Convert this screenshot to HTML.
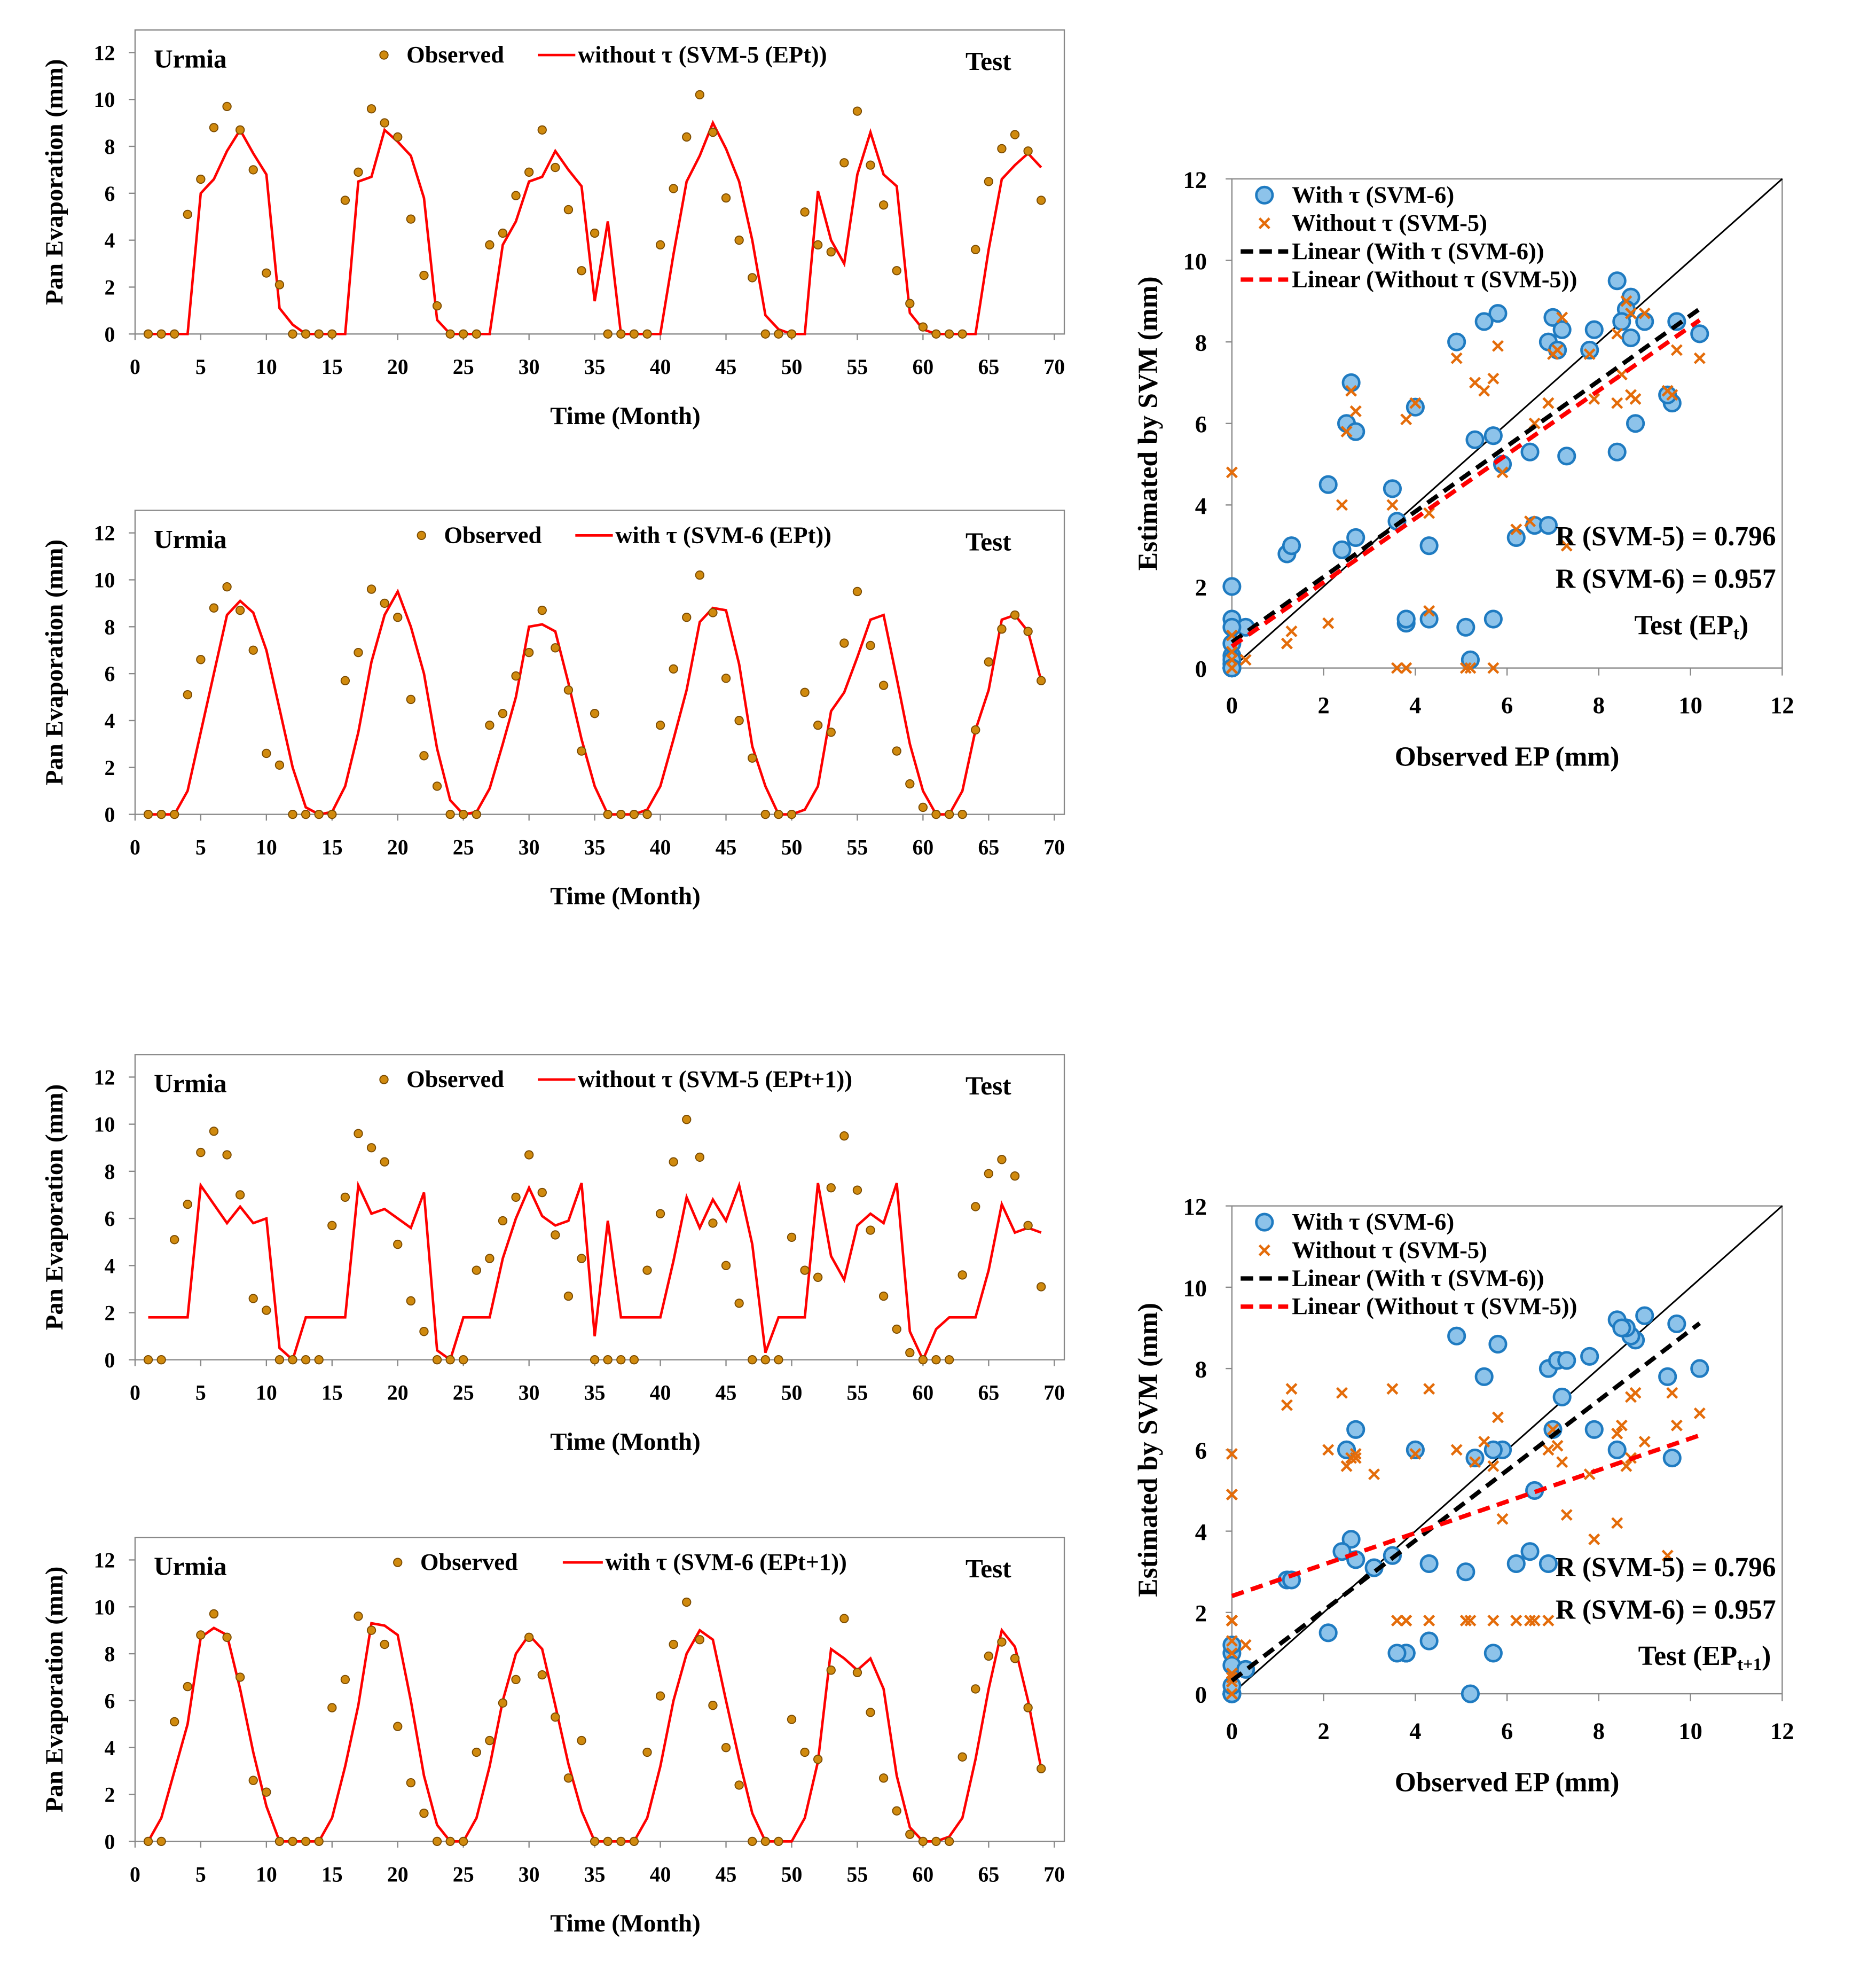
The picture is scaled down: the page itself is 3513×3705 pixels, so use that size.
<!DOCTYPE html>
<html><head><meta charset="utf-8">
<style>
html,body{margin:0;padding:0;background:#fff;}
svg{display:block;}
text{font-family:"Liberation Serif",serif;font-weight:bold;fill:#000;}
</style></head>
<body>
<svg id="fig" xmlns="http://www.w3.org/2000/svg" width="3513" height="3705" viewBox="0 0 1500 1582" preserveAspectRatio="none"></svg>
<script>
const months = Array.from({length:69},(_,i)=>i+1);
const obsT = [0,0,0,5.1,6.6,8.8,9.7,8.7,7.0,2.6,2.1,0,0,0,0,5.7,6.9,9.6,9.0,8.4,4.9,2.5,1.2,0,0,0,3.8,4.3,5.9,6.9,8.7,7.1,5.3,2.7,4.3,0,0,0,0,3.8,6.2,8.4,10.2,8.6,5.8,4.0,2.4,0,0,0,5.2,3.8,3.5,7.3,9.5,7.2,5.5,2.7,1.3,0.3,0,0,0,3.6,6.5,7.9,8.5,7.8,5.7];
const obsT1 = [0,0,5.1,6.6,8.8,9.7,8.7,7.0,2.6,2.1,0,0,0,0,5.7,6.9,9.6,9.0,8.4,4.9,2.5,1.2,0,0,0,3.8,4.3,5.9,6.9,8.7,7.1,5.3,2.7,4.3,0,0,0,0,3.8,6.2,8.4,10.2,8.6,5.8,4.0,2.4,0,0,0,5.2,3.8,3.5,7.3,9.5,7.2,5.5,2.7,1.3,0.3,0,0,0,3.6,6.5,7.9,8.5,7.8,5.7,3.1];
const svm5T = [0,0,0,0,6.0,6.6,7.8,8.7,7.7,6.8,1.1,0.4,0,0,0,0,6.5,6.7,8.7,8.2,7.6,5.8,0.6,0,0,0,0,3.8,4.8,6.5,6.7,7.8,7.0,6.3,1.4,4.8,0,0,0,0,3.4,6.5,7.6,9.0,7.9,6.5,4.0,0.8,0.2,0,0,6.1,4.0,3.0,6.8,8.6,6.8,6.3,0.9,0.2,0,0,0,0,3.6,6.6,7.2,7.7,7.1];
const svm6T = [0,0,0,1.0,3.5,6.0,8.5,9.1,8.6,7.0,4.5,2.0,0.3,0,0.1,1.2,3.5,6.5,8.5,9.5,8.0,6.0,2.8,0.6,0,0.1,1.1,3.0,5.0,8.0,8.1,7.8,5.6,3.2,1.2,0,0,0,0.2,1.2,3.2,5.3,8.2,8.8,8.7,6.4,2.9,1.2,0,0,0.2,1.2,4.4,5.2,6.7,8.3,8.5,5.8,3.0,1.0,0,0,1.0,3.6,5.3,8.3,8.5,7.8,5.7];
const svm5T1 = [1.8,1.8,1.8,1.8,7.4,6.6,5.8,6.5,5.8,6.0,0.5,0,1.8,1.8,1.8,1.8,7.4,6.2,6.4,6.0,5.6,7.1,0.4,0,1.8,1.8,1.8,4.3,6.0,7.3,6.1,5.7,5.9,7.5,1.0,5.9,1.8,1.8,1.8,1.8,4.2,6.9,5.6,6.8,5.9,7.4,4.9,0.3,1.8,1.8,1.8,7.5,4.4,3.4,5.7,6.2,5.8,7.5,1.2,0,1.3,1.8,1.8,1.8,3.8,6.6,5.4,5.6,5.4];
const svm6T1 = [0,1.0,3.0,5.0,8.7,9.1,8.8,6.5,3.8,1.5,0,0,0,0,1.0,3.2,5.8,9.3,9.2,8.8,6.0,2.8,0.7,0,0,1.0,3.2,6.0,8.0,8.8,8.2,5.8,3.3,1.3,0,0,0,0,1.0,3.2,6.0,8.0,9.0,8.6,6.0,3.5,1.2,0,0,0,1.0,3.4,8.2,7.8,7.3,7.8,6.5,2.8,0.6,0,0,0.2,1.0,3.5,6.5,9.0,8.3,6.0,3.1];
const yTicks = [0,2,4,6,8,10,12];
const xTicks = [0,5,10,15,20,25,30,35,40,45,50,55,60,65,70];
const sTicks = [0,2,4,6,8,10,12];

const svg = document.getElementById('fig');
const NS = 'http://www.w3.org/2000/svg';
function mk(tag, attrs, parent, txt){
  const e = document.createElementNS(NS, tag);
  for (const k in attrs) e.setAttribute(k, attrs[k]);
  if (txt !== undefined) e.textContent = txt;
  (parent || svg).appendChild(e);
  return e;
}

const tsPanels = [
  {top:24, y0:267, obs:obsT, mod:svm5T, name:'svm5-ept', obsX:307, lx1:430, lx2:460, lab:'without \u03c4 (SVM-5 (EPt))'},
  {top:408, y0:651, obs:obsT, mod:svm6T, name:'svm6-ept', obsX:337, lx1:460, lx2:490, lab:'with \u03c4 (SVM-6 (EPt))'},
  {top:843, y0:1087, obs:obsT1, mod:svm5T1, name:'svm5-ept1', obsX:307, lx1:430, lx2:460, lab:'without \u03c4 (SVM-5 (EPt+1))'},
  {top:1229, y0:1472, obs:obsT1, mod:svm6T1, name:'svm6-ept1', obsX:318, lx1:450, lx2:482, lab:'with \u03c4 (SVM-6 (EPt+1))'}
];
tsPanels.forEach((p,pi)=>{
  const g = mk('g',{});
  
  
  const X0=108, X1=851, XR=843;
  const xs = v => X0 + v*(XR-X0)/70;
  const ys = v => p.y0 - v*(p.y0-p.top-18)/12;
  const box = mk('rect',{x:X0,y:p.top,width:X1-X0,height:p.y0-p.top,fill:'none',stroke:'#888','stroke-width':1},g);
  
  
  yTicks.forEach(t=>{
    const tl = mk('text',{x:92,y:ys(t)+6,'font-size':17,'text-anchor':'end'},g,String(t));
    
    
    mk('line',{x1:X0-5,x2:X0,y1:ys(t),y2:ys(t),stroke:'#888'},g);
  });
  xTicks.forEach(t=>{
    const tl = mk('text',{x:xs(t),y:p.y0+32,'font-size':17,'text-anchor':'middle'},g,String(t));
    
    
    mk('line',{x1:xs(t),x2:xs(t),y1:p.y0,y2:p.y0+5,stroke:'#888'},g);
  });
  const yt = mk('text',{x:0,y:0,'font-size':20,'text-anchor':'middle',transform:`translate(50,${(p.top+p.y0)/2}) rotate(-90)`},g,'Pan Evaporation (mm)');
  
  
  const xt = mk('text',{x:500,y:p.y0+72,'font-size':20,'text-anchor':'middle'},g,'Time (Month)');
  
  
  const st = mk('text',{x:123,y:p.top+30,'font-size':21},g,'Urmia');
  
  
  const te = mk('text',{x:772,y:p.top+32,'font-size':21},g,'Test');
  
  
  const line = mk('polyline',{points:p.mod.map((v,i)=>xs(months[i])+','+ys(v)).join(' '),fill:'none',stroke:'#ff0000','stroke-width':2},g);
  
  
  p.obs.forEach((v,i)=>{
    const c = mk('circle',{cx:xs(months[i]),cy:ys(v),r:3.3,fill:'#D08A0E',stroke:'#7a4a00','stroke-width':0.8},g);
    
    
  });
  const ly = p.top+20;
  const ld = mk('circle',{cx:p.obsX,cy:ly,r:3.3,fill:'#D08A0E',stroke:'#7a4a00','stroke-width':0.8},g);
  
  
  const lt = mk('text',{x:p.obsX+18,y:ly+6,'font-size':19},g,'Observed');
  
  
  const ll = mk('line',{x1:p.lx1,x2:p.lx2,y1:ly,y2:ly,stroke:'#ff0000','stroke-width':2},g);
  
  
  const lm = mk('text',{x:p.lx2+2,y:ly+6,'font-size':19},g,p.lab);
  
  
});

function fit(x,y){
  const n=x.length; let sx=0,sy=0,sxx=0,sxy=0;
  for(let i=0;i<n;i++){sx+=x[i];sy+=y[i];sxx+=x[i]*x[i];sxy+=x[i]*y[i];}
  const b=(n*sxy-sx*sy)/(n*sxx-sx*sx); return {b, a:(sy-b*sx)/n};
}
const scPanels = [
  {top:143, y0:534, obs:obsT, s6:svm6T, s5:svm5T, name:'ept', sub:'t', legY:156, rY:436},
  {top:964, y0:1354, obs:obsT1, s6:svm6T1, s5:svm5T1, name:'ept1', sub:'t+1', legY:977, rY:1260}
];
scPanels.forEach(p=>{
  const g = mk('g',{});
  
  
  const X0=985, X1=1425;
  const xs = v => X0 + v*(X1-X0)/12;
  const ys = v => p.y0 - v*(p.y0-p.top)/12;
  const box = mk('rect',{x:X0,y:p.top,width:X1-X0,height:p.y0-p.top,fill:'none',stroke:'#888','stroke-width':1},g);
  
  
  sTicks.forEach(t=>{
    const tl = mk('text',{x:965,y:ys(t)+7,'font-size':19,'text-anchor':'end'},g,String(t));
    
    
    mk('line',{x1:X0-5,x2:X0,y1:ys(t),y2:ys(t),stroke:'#888'},g);
    const xl = mk('text',{x:xs(t),y:p.y0+36,'font-size':19,'text-anchor':'middle'},g,String(t));
    
    
    mk('line',{x1:xs(t),x2:xs(t),y1:p.y0,y2:p.y0+6,stroke:'#888'},g);
  });
  const yt = mk('text',{x:0,y:0,'font-size':22,'text-anchor':'middle',transform:`translate(925,${(p.top+p.y0)/2}) rotate(-90)`},g,'Estimated by SVM (mm)');
  
  
  const xt = mk('text',{x:1205,y:p.y0+78,'font-size':22,'text-anchor':'middle'},g,'Observed EP (mm)');
  
  
  const one = mk('line',{x1:xs(0),y1:ys(0),x2:xs(12),y2:ys(12),stroke:'#000','stroke-width':1.3},g);
  
  
  const xmax = Math.max(...p.obs);
  p.obs.forEach((v,i)=>{
    const c = mk('circle',{cx:xs(v),cy:ys(p.s6[i]),r:6.5,fill:'#8DC3EA',stroke:'#1F7BC1','stroke-width':2},g);
    
    
  });
  p.obs.forEach((v,i)=>{
    const cx=xs(v), cy=ys(p.s5[i]);
    const m = mk('path',{d:`M${cx-4},${cy-4}L${cx+4},${cy+4}M${cx-4},${cy+4}L${cx+4},${cy-4}`,stroke:'#E46C0A','stroke-width':2},g);
    
    
  });
  const f6 = fit(p.obs,p.s6), f5 = fit(p.obs,p.s5);
  const l6 = mk('line',{x1:xs(0),y1:ys(f6.a),x2:xs(xmax),y2:ys(f6.a+f6.b*xmax),stroke:'#000','stroke-width':3.5,'stroke-dasharray':'10,6'},g);
  
  
  const l5 = mk('line',{x1:xs(0),y1:ys(f5.a),x2:xs(xmax),y2:ys(f5.a+f5.b*xmax),stroke:'#ff0000','stroke-width':3.5,'stroke-dasharray':'10,6'},g);
  
  
  const legs = ['With \u03c4 (SVM-6)','Without \u03c4 (SVM-5)','Linear (With \u03c4 (SVM-6))','Linear (Without \u03c4 (SVM-5))'];
  legs.forEach((s,k)=>{
    const y = p.legY + k*22.5;
    let m;
    if(k===0) m = mk('circle',{cx:1011,cy:y,r:6.5,fill:'#8DC3EA',stroke:'#1F7BC1','stroke-width':2},g);
    else if(k===1) m = mk('path',{d:`M1007,${y-4}L1015,${y+4}M1007,${y+4}L1015,${y-4}`,stroke:'#E46C0A','stroke-width':2},g);
    else m = mk('line',{x1:992,x2:1030,y1:y,y2:y,stroke:k===2?'#000':'#ff0000','stroke-width':3.5,'stroke-dasharray':'10,5'},g);
    
    
    const t = mk('text',{x:1033,y:y+6,'font-size':19},g,s);
    
    
  });
  const r1 = mk('text',{x:1420,y:p.rY,'font-size':22,'text-anchor':'end'},g,'R (SVM-5) = 0.796');
  
  
  const r2 = mk('text',{x:1420,y:p.rY+34,'font-size':22,'text-anchor':'end'},g,'R (SVM-6) = 0.957');
  
  
  const tt = mk('text',{x:p.sub==='t'?1398:1416,y:p.rY+71,'font-size':22,'text-anchor':'end'},g);
  
  
  mk('tspan',{},tt,'Test (EP');
  mk('tspan',{'font-size':14,dy:4},tt,p.sub);
  mk('tspan',{dy:-4},tt,')');
});
</script>
</body></html>
